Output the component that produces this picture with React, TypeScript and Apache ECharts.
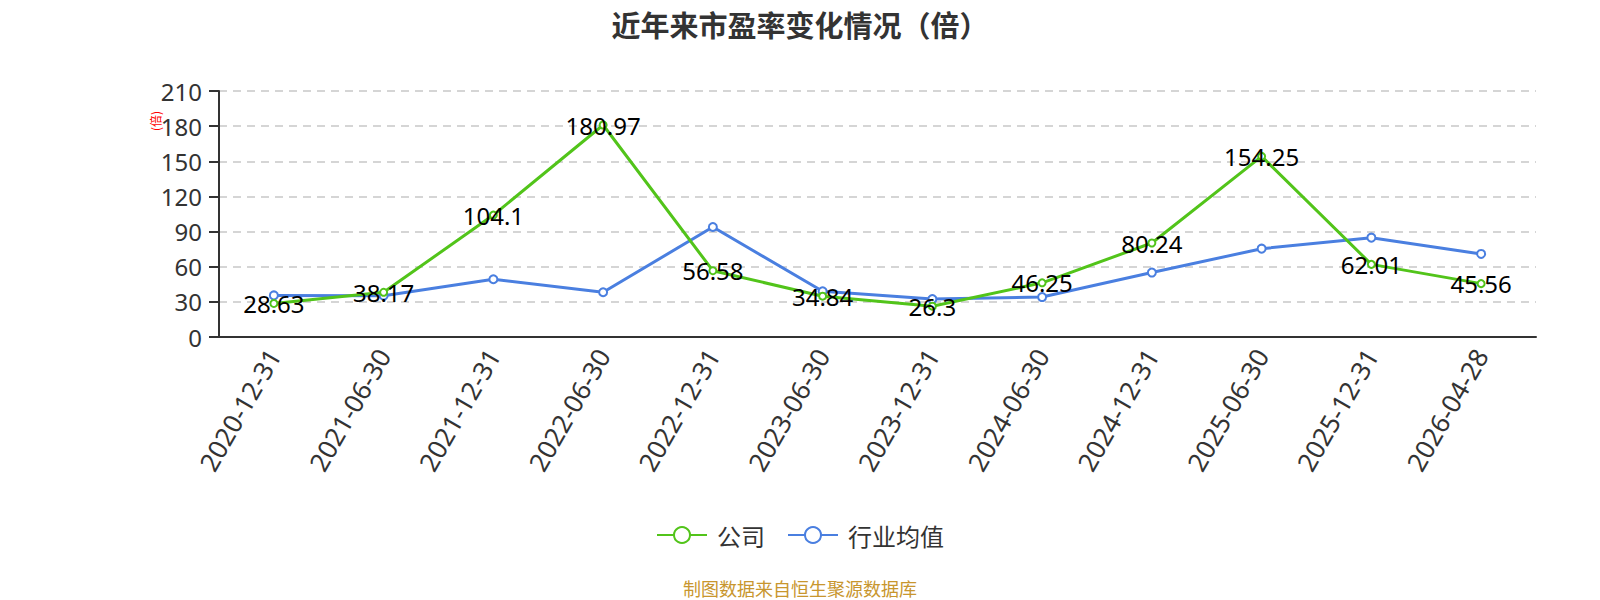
import React, { useEffect, useRef } from "react";
import * as echarts from "echarts";

const categories = [
  "2020-12-31", "2021-06-30", "2021-12-31", "2022-06-30", "2022-12-31", "2023-06-30",
  "2023-12-31", "2024-06-30", "2024-12-31", "2025-06-30", "2025-12-31", "2026-04-28",
];
const companyPE = [28.63, 38.17, 104.1, 180.97, 56.58, 34.84, 26.3, 46.25, 80.24, 154.25, 62.01, 45.56];
const industryPE = [35.5, 35.3, 49.3, 38.2, 93.9, 39.0, 32.4, 34.1, 55.0, 75.4, 84.8, 70.9];
const seriesNames = ["公司", "行业均值"];
const titleText = "近年来市盈率变化情况（倍）";
const footerText = "制图数据来自恒生聚源数据库";
const unitText = "(倍)";

const FONT = "'Noto Sans', 'Noto Sans CJK SC', sans-serif";
const CJK = "'Noto Sans CJK SC', sans-serif";

export default function App() {
  const ref = useRef<HTMLDivElement>(null);
  useEffect(() => {
    document.body.style.margin = "0";
    const chart = echarts.init(ref.current!, null, { renderer: "svg" });
    chart.setOption({
      animation: false,
      textStyle: { fontFamily: FONT },
      title: [
        {
          text: titleText,
          left: "center",
          top: 4,
          textStyle: { fontSize: 29, fontWeight: "bold", color: "#333", fontFamily: CJK },
        },
        {
          text: footerText,
          left: "center",
          top: 574,
          textStyle: { fontSize: 18, fontWeight: "normal", color: "#c8962e", fontFamily: CJK },
        },
      ],
      graphic: [
        {
          type: "text",
          x: 155,
          y: 121,
          rotation: Math.PI / 2,
          style: {
            text: unitText,
            fill: "#ff0000",
            fontSize: 12,
            fontFamily: CJK,
            align: "center",
            verticalAlign: "middle",
          },
        },
      ],
      legend: {
        data: seriesNames,
        left: "center",
        top: 518,
        itemWidth: 50,
        itemHeight: 20,
        itemGap: 22,
        textStyle: { fontSize: 24, color: "#333", fontFamily: CJK, padding: [0, 0, 0, 5] },
      },
      grid: { left: 219, right: 64, top: 91, bottom: 263, containLabel: false },
      xAxis: {
        type: "category",
        data: categories,
        boundaryGap: true,
        axisLine: { lineStyle: { color: "#333", width: 2 } },
        axisTick: { length: 9, lineStyle: { color: "#333", width: 2 } },
        axisLabel: { rotate: 60, fontSize: 26, color: "#333", margin: 14 },
      },
      yAxis: {
        type: "value",
        min: 0,
        max: 210,
        interval: 30,
        axisLine: { show: true, lineStyle: { color: "#333", width: 2 } },
        axisTick: { show: true, length: 10, lineStyle: { color: "#333", width: 2 } },
        axisLabel: { fontSize: 24, color: "#333", margin: 17 },
        splitLine: { lineStyle: { type: [8, 6], color: "#c8c8c8", width: 1.5 } },
      },
      series: [
        {
          name: seriesNames[0],
          type: "line",
          data: companyPE,
          symbol: "emptyCircle",
          symbolSize: 7,
          itemStyle: { color: "#52c41a" },
          lineStyle: { color: "#52c41a", width: 3 },
          label: { show: true, position: "inside", fontSize: 24, color: "#000" },
          z: 3,
        },
        {
          name: seriesNames[1],
          type: "line",
          data: industryPE,
          symbol: "emptyCircle",
          symbolSize: 8,
          itemStyle: { color: "#4a7fe0" },
          lineStyle: { color: "#4a7fe0", width: 3 },
          z: 2,
        },
      ],
    });
    return () => chart.dispose();
  }, []);
  return <div ref={ref} style={{ width: 1600, height: 600 }} />;
}
